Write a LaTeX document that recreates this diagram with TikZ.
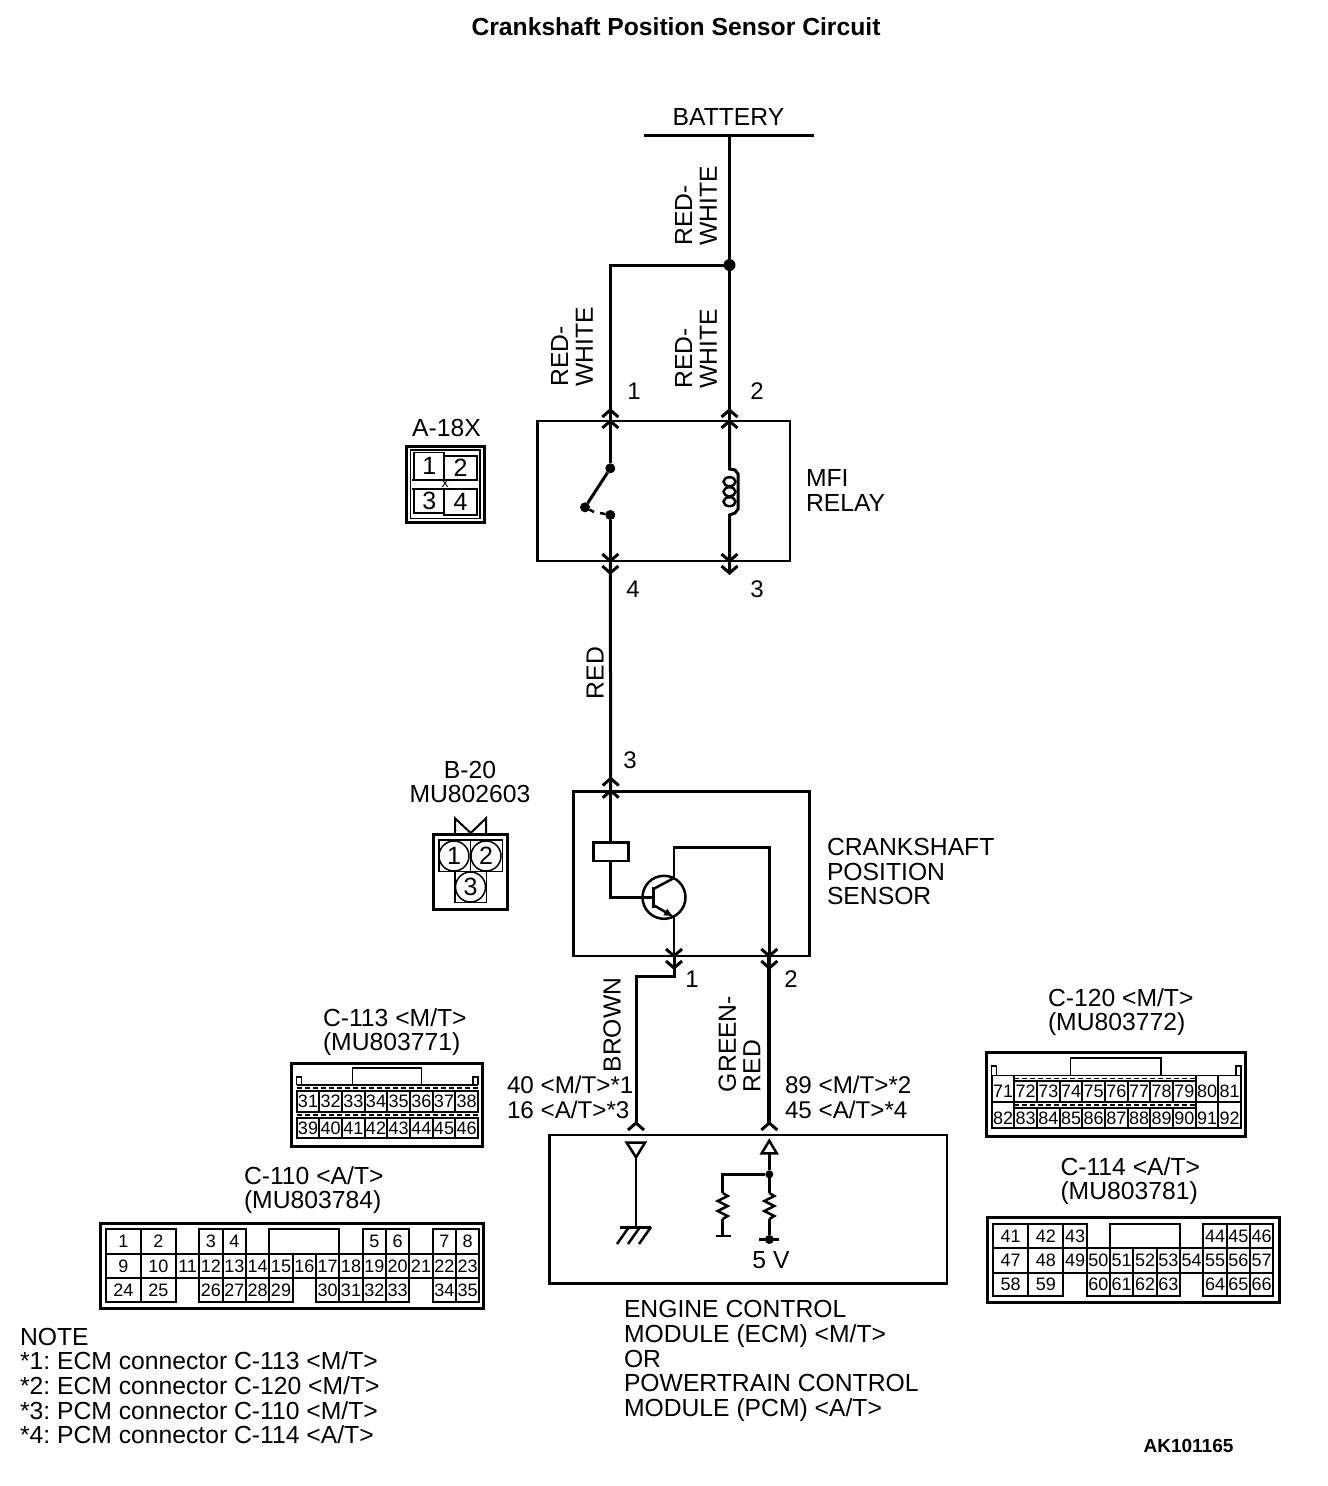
\documentclass[tikz,border=0pt]{standalone}
\usepackage{fontspec}
\setmainfont{Liberation Sans}
\usetikzlibrary{arrows.meta}

% one row of numbered cavities: [style], name, columns, top, bottom, pin/from/to
\newcommand{\pinrow}[6][]{%
    \foreach \pinno/\pl/\pr in {#6}{
        \pgfmathsetmacro\xa{#3[\pl]}
        \pgfmathsetmacro\xb{#3[\pr]}
        \node [pincell, minimum width={(\xb-\xa)*1pt}, minimum height={(#5-#4)*1pt}, #1]
            (#2-\pinno) at ({(\xa+\xb)/2},{(#4+#5)/2}) {\pinno};
    }}
% wire-end chevrons
\newcommand{\chevup}[2]{\draw [wire] (#1,#2) ++(-8,7) -- ++(8,-7) -- ++(8,7);}
\newcommand{\chevdown}[2]{\draw [wire] (#1,#2) ++(-8,-7) -- ++(8,7) -- ++(8,-7);}
% squiggle of a resistor, 26 high
\newcommand{\zigres}[2]{\draw [thinwire] (#1,#2) -- ++(5,3) -- ++(-10,5) -- ++(10,5) -- ++(-10,5) -- ++(10,5) -- ++(-5,3);}

\def\colsten{{106,141,176,199.3,222.7,246,269.3,292.7,316,339.3,362.7,386,409.3,432.7,456,479.3}}
\def\colsfourteen{{992.7,1028.3,1063.3,1086.7,1110,1133.3,1156.7,1180,1203.3,1226.7,1250,1273.3}}
\def\colsthirteen{{296.7,319.3,342,364.7,387.3,410,432.7,455.3,478}}
\def\colstwenty{{991.7,1014.3,1037,1059.7,1082.3,1105,1127.7,1150.3,1173,1195.7,1218.3,1241}}

\begin{document}
\frenchspacing
\begin{tikzpicture}[x=1pt, y=-1pt,
        wire/.style = {line width=3pt},
        thinwire/.style = {line width=2.5pt},
        boldwire/.style = {line width=4pt},
        every node/.style = {inner sep=0pt, outer sep=0pt},
        lbl/.style = {font=\fontsize{24.7}{24.7}\selectfont, align=left},
        inlbl/.style = {lbl, font=\fontsize{24.2}{24.7}\selectfont},
        pinlbl/.style = {lbl, font=\fontsize{24}{24.7}\selectfont},
        wirelbl/.style = {lbl, rotate=90},
        unit/.style = {draw, line width=2.5pt},
        frame/.style = {line width=3pt},
        pincell/.style = {draw, line width=1.7pt, font=\fontsize{18}{18}\selectfont},
        bigpin/.style = {font=\fontsize{25}{25}\selectfont},
        band/.style = {line width=1.2pt, dash pattern=on 5pt off 3pt},
        dotnode/.style = {circle, fill, minimum size=#1},
        dotnode/.default = 10pt]
    \useasboundingbox (0,0) rectangle (1328,1486);

    \node [font=\bfseries\fontsize{24.7}{24.7}\selectfont] (title) at (676,27) {Crankshaft Position Sensor Circuit};

    % battery and top of the harness
    \node [lbl] (battery) at (728.5,117) {BATTERY};
    \coordinate (batt-l) at (644,135);
    \coordinate (batt-r) at (814,135);
    \coordinate (batt-feed) at (729.5,135);
    \draw [wire] (batt-l) -- (batt-r);
    \node [dotnode=12pt] (split) at (729.5,265) {};
    \node [wirelbl] (lbl-rw-a) at (696,206) {RED-\\WHITE};
    \node [wirelbl] (lbl-rw-b) at (572,347) {RED-\\WHITE};
    \node [wirelbl] (lbl-rw-c) at (696,349) {RED-\\WHITE};

    % relay
    \node [unit, minimum width=252.5pt, minimum height=140pt] (relay) at (663.5,491.2) {};
    \coordinate (relay-1) at (610.3,421);
    \coordinate (relay-2) at (729.5,421);
    \coordinate (relay-4) at (610.3,561);
    \coordinate (relay-3) at (729.5,561);
    \draw [wire] (batt-feed) -- (split) -- (relay-2);
    \draw [wire] (split) -| (relay-1);
    \chevup{610.3}{410}
    \chevup{610.3}{421}
    \chevup{729.5}{410}
    \chevup{729.5}{421}
    \chevdown{610.3}{561}
    \chevdown{610.3}{573}
    \chevdown{729.5}{561}
    \chevdown{729.5}{573}
    \node [pinlbl] (pin-r1) at (634,391) {1};
    \node [pinlbl] (pin-r2) at (757,391) {2};
    \node [pinlbl] (pin-r4) at (633,589) {4};
    \node [pinlbl] (pin-r3) at (757,589) {3};
    \node [lbl, anchor=west] (lbl-relay) at (806,490.5) {MFI\\RELAY};

    % contact
    \node [dotnode] (sw-top) at (610.3,468.3) {};
    \node [dotnode] (sw-bot) at (610.3,515) {};
    \node [dotnode] (sw-arm) at (585,507.3) {};
    \draw [wire] (relay-1) -- (sw-top);
    \draw [wire] (sw-bot) -- (relay-4) -- (610.3,574);
    \draw [wire] (sw-top) -- (sw-arm);
    \draw [thinwire] (sw-arm) -- (594,512);
    \draw [thinwire] (600,513) -- (sw-bot);

    % coil
    \draw [wire] (relay-2) -- (729.5,469) -- (735,470) -- (738,474) -- (738,509) -- (735,513) -- (729.5,515) -- (relay-3) -- (729.5,574);
    \foreach \coily in {481.7,491.7,501.7}
        \draw [thinwire] (729.5,\coily) ellipse [x radius=6, y radius=4.5];

    % A-18X
    \node [lbl] (lbl-a18) at (446.5,428) {A-18X};
    \draw [frame] (406.7,446) rectangle (484,522);
    \draw [line width=1.5pt] (410.7,450) rectangle (480,518.3);
    \node [pincell, bigpin, minimum width=30pt, minimum height=27.7pt] (a18-1) at (429.3,466.2) {1};
    \node [pincell, bigpin, minimum width=32.4pt, minimum height=24.3pt] (a18-2) at (460.5,467.9) {2};
    \node [pincell, bigpin, minimum width=30pt, minimum height=23.7pt] (a18-3) at (429.3,500.9) {3};
    \node [pincell, bigpin, minimum width=32.4pt, minimum height=26pt] (a18-4) at (460.5,502) {4};
    \draw [line width=1.5pt] (411.7,480) -- (478.3,480) (411.7,489) -- (478.3,489);
    \node [font=\fontsize{14}{14}\selectfont] (a18-x) at (445,483.5) {x};

    % harness to the sensor
    \node [wirelbl] (lbl-red) at (595,673) {RED};
    \node [pinlbl] (pin-s3) at (630,760) {3};

    % sensor
    \node [unit, minimum width=236pt, minimum height=164.3pt] (sensor) at (691.3,873.8) {};
    \node [lbl, anchor=west] (lbl-sensor) at (827,871.5) {CRANKSHAFT\\POSITION\\SENSOR};
    \coordinate (sensor-3) at (610.7,791.7);
    \coordinate (sensor-1) at (674,956);
    \coordinate (sensor-2) at (769.3,956);
    \draw [wire] (relay-4) -- (sensor-3);
    \chevup{610.7}{778.5}
    \chevup{610.7}{790.7}
    \chevdown{674}{956}
    \chevdown{674}{968}
    \chevdown{769.3}{956}
    \chevdown{769.3}{968}
    \node [draw, line width=2.5pt, minimum width=35pt, minimum height=18.7pt] (pickup) at (610.8,851.7) {};
    \node [circle, draw, line width=2.5pt, minimum size=43pt] (trans) at (664,897.3) {};
    \coordinate (base) at (653.3,897.3);
    \coordinate (coll) at (674,878);
    \coordinate (emit) at (674,917);
    \draw [thinwire] (sensor-3) -- (pickup.north -| sensor-3);
    \draw [thinwire] (pickup.south -| sensor-3) |- (base);
    \draw [thinwire] (653.3,886.7) -- (653.3,908.3);
    \draw [thinwire] (653.3,889) -- (coll);
    \draw [thinwire, -{Latex[length=10pt,width=8pt]}] (653.3,905) -- (emit);
    \draw [thinwire] (coll) |- (769.3,847.3) -- (sensor-2);
    \draw [thinwire] (emit) -- (sensor-1);
    \node [pinlbl] (pin-s1) at (692,979) {1};
    \node [pinlbl] (pin-s2) at (791,979) {2};

    % B-20
    \node [lbl, align=center] (lbl-b20) at (470,782) {B-20\\MU802603};
    \draw [frame] (433.3,834) rectangle (507.7,909.3);
    \draw [line width=2pt] (455,833) -- (455,818.3) -- (470.7,833) -- (486,818.3) -- (486,833);
    \draw [line width=1.2pt] (439,840) rectangle (502.3,871.7) (470.7,840) -- (470.7,871.7);
    \draw [line width=1.2pt] (455,871.7) rectangle (486.7,902.3);
    \node [circle, draw, line width=1.5pt, minimum size=30pt, bigpin] (b20-1) at (454,856) {1};
    \node [circle, draw, line width=1.5pt, minimum size=30pt, bigpin] (b20-2) at (486,856) {2};
    \node [circle, draw, line width=1.5pt, minimum size=30pt, bigpin] (b20-3) at (470.5,887) {3};

    % harness to the control module
    \node [wirelbl] (lbl-brown) at (612,1025) {BROWN};
    \node [wirelbl] (lbl-green) at (739.5,1044) {GREEN-\\RED};
    \node [inlbl, anchor=west] (lbl-in1) at (507,1097.5) {40 <M/T>*1\\16 <A/T>*3};
    \node [inlbl, anchor=west] (lbl-in2) at (785,1097.5) {89 <M/T>*2\\45 <A/T>*4};

    % control module
    \node [unit, minimum width=397.7pt, minimum height=148.3pt] (ecm) at (748.2,1209.2) {};
    \node [lbl, anchor=west] (lbl-ecm) at (624,1361) {ENGINE CONTROL\\MODULE (ECM) <M/T>\\OR\\POWERTRAIN CONTROL\\MODULE (PCM) <A/T>};
    \coordinate (ecm-in1) at (636,1123);
    \coordinate (ecm-in2) at (769.3,1123);
    \draw [wire] (sensor-1) -- (674,976.7) -| (ecm-in1);
    \draw [boldwire] (sensor-2) -- (ecm-in2);
    \chevup{636}{1123}
    \chevup{769.3}{1123}

    % ground side
    \draw [thinwire] (626.7,1142.7) -- (645,1142.7) -- (636,1157.3) -- cycle;
    \coordinate (gnd) at (636,1227);
    \draw [thinwire] (636,1157.3) -- (gnd);
    \draw [wire] (620,1227) -- (651,1227);
    \foreach \hatchx in {629,640,651}
        \draw [thinwire] (\hatchx,1227) -- ++(-12,17);

    % 5 V side
    \draw [thinwire] (769.3,1140.7) -- (761.7,1153.3) -- (776.7,1153.3) -- cycle;
    \node [dotnode=8pt] (pullup) at (769.3,1174.3) {};
    \node [dotnode=9pt] (vref) at (769.3,1239.5) {};
    \node [lbl] (lbl-5v) at (771,1260) {5 V};
    \draw [thinwire] (769.3,1153.3) -- (pullup) -- (769.3,1193);
    \draw [thinwire] (769.3,1219) -- (vref);
    \draw [thinwire] (759,1239.5) -- (779,1239.5);
    \draw [thinwire] (pullup) -| (722.7,1193);
    \draw [thinwire] (722.7,1219) -- (722.7,1235.5);
    \draw [thinwire] (716,1236) -- (730.7,1236);
    \zigres{769.3}{1193}
    \zigres{722.7}{1193}

    % C-113
    \node [lbl, anchor=west] (lbl-c113) at (323,1032) {C-113 <M/T>\\(MU803771)};
    \draw [frame] (291,1063.3) rectangle (482.7,1146.7);
    \draw [line width=1.5pt] (352.7,1085) -- (352.7,1068) -- (421.7,1068) -- (421.7,1085);
    \draw [line width=1.5pt] (296.7,1085) -- (296.7,1077) -- (301.5,1077) -- (301.5,1085);
    \draw [line width=1.5pt] (478,1085) -- (478,1077) -- (473.2,1077) -- (473.2,1085);
    \draw [line width=1.5pt] (296.7,1085) -- (478,1085);
    \draw [band] (296.7,1088) -- (478,1088) (296.7,1115) -- (478,1115);
    \pinrow{c113}{\colsthirteen}{1091}{1112}{31/0/1,32/1/2,33/2/3,34/3/4,35/4/5,36/5/6,37/6/7,38/7/8}
    \pinrow{c113}{\colsthirteen}{1118}{1138}{39/0/1,40/1/2,41/2/3,42/3/4,43/4/5,44/5/6,45/6/7,46/7/8}

    % C-110
    \node [lbl, anchor=west] (lbl-c110) at (244,1190) {C-110 <A/T>\\(MU803784)};
    \draw [frame] (100,1223) rectangle (483.5,1308);
    \draw [line width=1.7pt] (269.3,1229) rectangle (339.3,1254);
    \pinrow{c110}{\colsten}{1229}{1254}{1/0/1,2/1/2,3/3/4,4/4/5,5/10/11,6/11/12,7/13/14,8/14/15}
    \pinrow{c110}{\colsten}{1254}{1278}{9/0/1,10/1/2,11/2/3,12/3/4,13/4/5,14/5/6,15/6/7,16/7/8,17/8/9,18/9/10,19/10/11,20/11/12,21/12/13,22/13/14,23/14/15}
    \pinrow{c110}{\colsten}{1278}{1302}{24/0/1,25/1/2,26/3/4,27/4/5,28/5/6,29/6/7,30/8/9,31/9/10,32/10/11,33/11/12,34/13/14,35/14/15}

    % C-120
    \node [lbl, anchor=west] (lbl-c120) at (1048,1012) {C-120 <M/T>\\(MU803772)};
    \draw [frame] (986,1052.7) rectangle (1245.7,1136);
    \draw [line width=1.5pt] (1070.7,1075) -- (1070.7,1058) -- (1161,1058) -- (1161,1075);
    \draw [line width=1.5pt] (991.7,1075.5) -- (991.7,1066) -- (996.5,1066) -- (996.5,1075.5);
    \draw [line width=1.5pt] (1241,1075.5) -- (1241,1066) -- (1236.2,1066) -- (1236.2,1075.5);
    \draw [line width=1.7pt] (991.7,1075.5) rectangle (1241,1128.3);
    \draw [line width=1.7pt] (991.7,1101.7) -- (1241,1101.7);
    \draw [band] (1014.3,1078.5) -- (1195.7,1078.5) (1014.3,1105) -- (1195.7,1105);
    \draw [line width=1.7pt] (1014.3,1075.5) -- (1014.3,1128.3)
        (1195.7,1075.5) -- (1195.7,1128.3) (1218.3,1075.5) -- (1218.3,1128.3);
    \pinrow{c120}{\colstwenty}{1081}{1101.7}{72/1/2,73/2/3,74/3/4,75/4/5,76/5/6,77/6/7,78/7/8,79/8/9}
    \pinrow{c120}{\colstwenty}{1108}{1128.3}{83/1/2,84/2/3,85/3/4,86/4/5,87/5/6,88/6/7,89/7/8,90/8/9}
    \pinrow[draw=none]{c120}{\colstwenty}{1081}{1101.7}{71/0/1,80/9/10,81/10/11}
    \pinrow[draw=none]{c120}{\colstwenty}{1108}{1128.3}{82/0/1,91/9/10,92/10/11}

    % C-114
    \node [lbl, anchor=west] (lbl-c114) at (1060.5,1181) {C-114 <A/T>\\(MU803781)};
    \draw [frame] (987.5,1217.5) rectangle (1279,1302.5);
    \draw [line width=1.7pt] (1110,1224.3) rectangle (1180,1248.3);
    \pinrow{c114}{\colsfourteen}{1224.3}{1248.3}{41/0/1,42/1/2,43/2/3,44/8/9,45/9/10,46/10/11}
    \pinrow{c114}{\colsfourteen}{1248.3}{1272.7}{47/0/1,48/1/2,49/2/3,50/3/4,51/4/5,52/5/6,53/6/7,54/7/8,55/8/9,56/9/10,57/10/11}
    \pinrow{c114}{\colsfourteen}{1272.7}{1296}{58/0/1,59/1/2,60/3/4,61/4/5,62/5/6,63/6/7,64/8/9,65/9/10,66/10/11}

    % notes
    \node [lbl, anchor=west] (note) at (20,1386) {NOTE\\*1: ECM connector C-113 <M/T>\\*2: ECM connector C-120 <M/T>\\*3: PCM connector C-110 <M/T>\\*4: PCM connector C-114 <A/T>};
    \node [font=\bfseries\fontsize{19}{19}\selectfont] (code) at (1188.5,1446) {AK101165};
\end{tikzpicture}
\end{document}
